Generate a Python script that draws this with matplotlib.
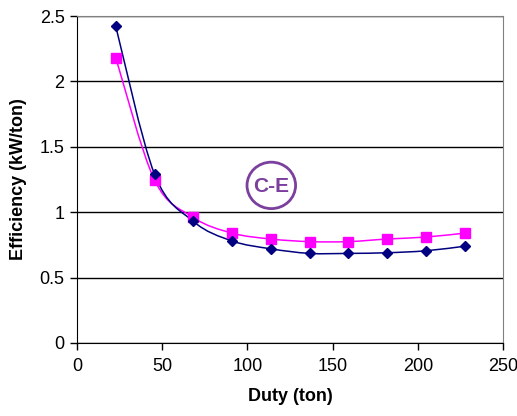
import matplotlib
matplotlib.use('Agg')

import matplotlib.pyplot as plt
import numpy as np
from matplotlib.path import Path
from matplotlib.patches import PathPatch, Ellipse

plt.rcParams['font.family'] = ['Liberation Sans', 'DejaVu Sans']

# data
duty = [22.75, 45.5, 68.25, 91.0, 113.75, 136.5, 159.25, 182.0, 204.75, 227.5]
eff_blue = [2.42, 1.29, 0.93, 0.78, 0.72, 0.685, 0.685, 0.69, 0.705, 0.74]
eff_pink = [2.18, 1.245, 0.96, 0.84, 0.795, 0.775, 0.775, 0.795, 0.81, 0.84]
xticks = [0, 50, 100, 150, 200, 250]
yticks = [0, 0.5, 1, 1.5, 2, 2.5]
ytick_labels = ['0', '0.5', '1', '1.5', '2', '2.5']


def smooth_path(x, y, t=1.0 / 6):
    # excel style smoothed line: cubic bezier through every point
    x = np.asarray(x)
    y = np.asarray(y)
    px = np.concatenate([[x[0]], x, [x[-1]]])
    py = np.concatenate([[y[0]], y, [y[-1]]])
    verts = [(x[0], y[0])]
    codes = [Path.MOVETO]
    for i in range(1, len(x)):
        c1 = (px[i] + (px[i + 1] - px[i - 1]) * t, py[i] + (py[i + 1] - py[i - 1]) * t)
        c2 = (px[i + 1] - (px[i + 2] - px[i]) * t, py[i + 1] - (py[i + 2] - py[i]) * t)
        verts += [c1, c2, (x[i], y[i])]
        codes += [Path.CURVE4] * 3
    return Path(verts, codes)


fig = plt.figure(figsize=(5.17, 4.16), dpi=100)
ax = fig.add_axes([0.149, 0.1755, 0.824, 0.786])

ax.add_patch(PathPatch(smooth_path(duty, eff_pink), fill=False, color='#ff00ff', lw=1.1, zorder=3))
ax.add_patch(PathPatch(smooth_path(duty, eff_blue), fill=False, color='#000080', lw=1.1, zorder=3))
ax.plot(duty, eff_pink, ls='none', marker='s', ms=7, color='#ff00ff', zorder=4)
ax.plot(duty, eff_blue, ls='none', marker='D', ms=5, color='#000080', zorder=5)

ax.set_xlim(0, 250)
ax.set_ylim(0, 2.5)
ax.set_xticks(xticks)
ax.set_yticks(yticks)
ax.set_yticklabels(ytick_labels)
ax.yaxis.grid(True, color='black', lw=1)
ax.set_axisbelow(True)
ax.tick_params(direction='out', length=5, width=1, labelsize=13, pad=6, colors='black')
ax.tick_params(axis='y', pad=4)

for s in ['left', 'bottom']:
    ax.spines[s].set_color('black')
ax.spines['right'].set_color('#808080')
ax.spines['top'].set_color('#808080')

ax.set_xlabel('Duty (ton)', fontsize=13, fontweight='bold', labelpad=9)
ax.set_ylabel('Efficiency (kW/ton)', fontsize=13, fontweight='bold', labelpad=9)

# C-E badge
ax.add_patch(Ellipse((114, 1.205), 28.5, 0.355, fill=False, ec='#7b3f9e', lw=2, zorder=6))
ax.text(114, 1.2, 'C-E', color='#7b3f9e', fontsize=15, fontweight='bold',
        ha='center', va='center', zorder=6)

plt.savefig('out.png', dpi=100)
plt.close()
